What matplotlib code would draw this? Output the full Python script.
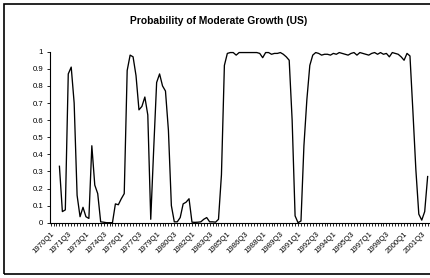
import matplotlib
matplotlib.use("Agg")
import matplotlib.pyplot as plt
from matplotlib.patches import Rectangle
import numpy as np

plt.rcParams['font.family'] = ['Liberation Sans', 'DejaVu Sans']

title = "Probability of Moderate Growth (US)"

# Quarterly axis: 1970Q1 is quarter index 0; data start at 1970Q4
first_year = 1970
start_quarter_index = 3   # 1970Q4
last_quarter_index = 128  # 2002Q1

tick_labels = ['1970Q1', '1971Q3', '1973Q1', '1974Q3', '1976Q1', '1977Q3',
               '1979Q1', '1980Q3', '1982Q1', '1983Q3', '1985Q1', '1986Q3',
               '1988Q1', '1989Q3', '1991Q1', '1992Q3', '1994Q1', '1995Q3',
               '1997Q1', '1998Q3', '2000Q1', '2001Q3']

prob_moderate = [
    0.33, 0.065, 0.075, 0.87, 0.91, 0.70, 0.16,
    0.035, 0.09, 0.035, 0.025, 0.45, 0.22, 0.17, 0.005, 0.003, 0.0,
    0.0, 0.0, 0.11, 0.105, 0.14, 0.17, 0.89, 0.98, 0.97, 0.86,
    0.66, 0.68, 0.735, 0.63, 0.02, 0.43, 0.82, 0.87, 0.80, 0.77,
    0.54, 0.10, 0.005, 0.005, 0.03, 0.11, 0.12, 0.14, 0.003, 0.002,
    0.003, 0.005, 0.02, 0.03, 0.005, 0.005, 0.003, 0.02, 0.28, 0.92,
    0.99, 0.995, 0.995, 0.98, 0.995, 0.995, 0.995, 0.995, 0.995, 0.995,
    0.995, 0.99, 0.965, 0.995, 0.995, 0.985, 0.99, 0.99, 0.995, 0.985,
    0.97, 0.95, 0.6, 0.04, 0.0, 0.01, 0.45, 0.72, 0.92, 0.98,
    0.995, 0.99, 0.98, 0.985, 0.985, 0.98, 0.99, 0.985, 0.995, 0.99,
    0.985, 0.98, 0.99, 0.995, 0.98, 0.995, 0.99, 0.985, 0.98, 0.99,
    0.995, 0.985, 0.995, 0.985, 0.99, 0.97, 0.995, 0.99, 0.985, 0.97,
    0.95, 0.99, 0.975, 0.65, 0.31, 0.05, 0.015, 0.065, 0.27,
]

W, H = 430, 278
fig = plt.figure(figsize=(W / 100, H / 100), dpi=100)

# outer chart border (right side cropped)
fig.patches.append(Rectangle((4 / W, (H - 274) / H), 1.2, (274 - 4) / H,
                             transform=fig.transFigure, fill=False,
                             edgecolor='black', linewidth=1.2, clip_on=False))

ax = fig.add_axes([50 / W, (H - 222.7) / H, (W - 50) / W, 171 / H])

x = np.arange(start_quarter_index, start_quarter_index + len(prob_moderate))
ax.plot(x, prob_moderate, color='black', linewidth=0.95, clip_on=False)

ax.set_xlim(-0.2, 128.8)
ax.set_ylim(0, 1)

# quarterly ticks, labels every 6 quarters
ax.set_xticks(np.arange(0, 129))
labels = [''] * 129
for i, lab in enumerate(tick_labels):
    labels[i * 6] = lab
ax.set_xticklabels(labels, rotation=45, ha='right', va='top',
                   rotation_mode='anchor', fontsize=5.6)
ax.tick_params(axis='x', length=2.5, width=0.6, pad=3, direction='out')

yt = np.round(np.arange(0, 1.01, 0.1), 1)
ax.set_yticks(yt)
ax.set_yticklabels(['0'] + [f'{v:g}' for v in yt[1:-1]] + ['1'], fontsize=5.6)
ax.tick_params(axis='y', length=2.5, width=0.6, pad=2.5, direction='out')

for s in ['top', 'right']:
    ax.spines[s].set_visible(False)
for s in ['left', 'bottom']:
    ax.spines[s].set_linewidth(0.8)

fig.text(219 / W, (H - 20.5) / H, title, ha='center', va='center',
         fontsize=7.4, fontweight='bold')

fig.savefig('out.png', dpi=100)
